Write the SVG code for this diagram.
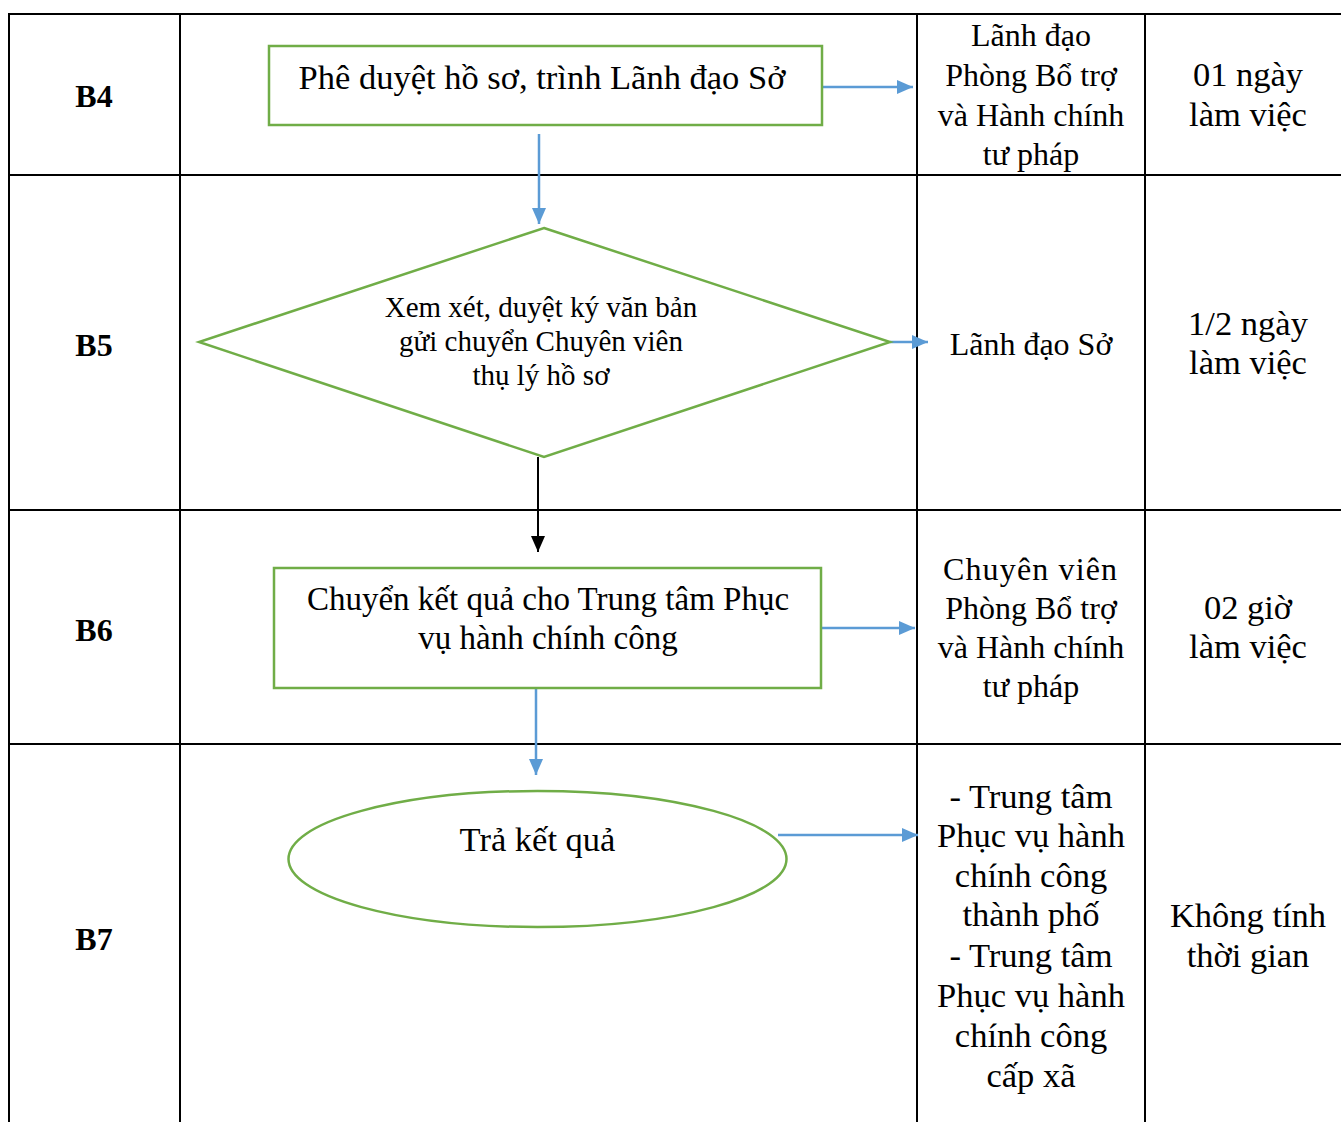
<svg xmlns="http://www.w3.org/2000/svg" width="1341" height="1122" viewBox="0 0 1341 1122">
  <style>
    .grid { stroke: #000; stroke-width: 2; fill: none; }
    .shape { fill: #fff; stroke: #70AD47; stroke-width: 2.5; }
    .txt { font-family: "Liberation Serif", "Times New Roman", serif; font-size: 32px; fill: #000; text-anchor: middle; }
    .step { font-weight: bold; }
    .dia { font-size: 29px; }
    .big { font-size: 34.5px; }
    .mid { font-size: 33px; }
    .flow { stroke: #5B9BD5; stroke-width: 2.5; fill: none; }
    .flowk { stroke: #000; stroke-width: 2; fill: none; }
  </style>
  <defs>
    <marker id="arrowBlue" markerUnits="userSpaceOnUse" markerWidth="16" markerHeight="14" refX="16" refY="7" orient="auto">
      <path d="M0,0 L16,7 L0,14 z" fill="#5B9BD5"/>
    </marker>
    <marker id="arrowBlack" markerUnits="userSpaceOnUse" markerWidth="16" markerHeight="14" refX="16" refY="7" orient="auto">
      <path d="M0,0 L16,7 L0,14 z" fill="#000"/>
    </marker>
  </defs>

  <rect width="1341" height="1122" fill="#fff"/>

  <!-- table grid -->
  <g id="table">
    <line class="grid" x1="9" y1="14" x2="1341" y2="14"/>
    <line class="grid" x1="9" y1="175" x2="1341" y2="175"/>
    <line class="grid" x1="9" y1="510" x2="1341" y2="510"/>
    <line class="grid" x1="9" y1="744" x2="1341" y2="744"/>
    <line class="grid" x1="9" y1="13" x2="9" y2="1122"/>
    <line class="grid" x1="180" y1="13" x2="180" y2="1122"/>
    <line class="grid" x1="917" y1="13" x2="917" y2="1122"/>
    <line class="grid" x1="1145" y1="13" x2="1145" y2="1122"/>
  </g>

  <!-- step labels -->
  <g id="steps">
    <text class="txt step" x="94" y="107">B4</text>
    <text class="txt step" x="94" y="356">B5</text>
    <text class="txt step" x="94" y="641">B6</text>
    <text class="txt step" x="94" y="950">B7</text>
  </g>

  <!-- responsible parties -->
  <g id="owners">
    <text class="txt" x="1031" y="46">Lãnh đạo</text>
    <text class="txt" x="1031" y="86">Phòng Bổ trợ</text>
    <text class="txt" x="1031" y="126">và Hành chính</text>
    <text class="txt" x="1031" y="165">tư pháp</text>

    <text class="txt" x="1031" y="355">Lãnh đạo Sở</text>

    <text class="txt" x="1030" y="580" textLength="174" lengthAdjust="spacing">Chuyên viên</text>
    <text class="txt" x="1031" y="619">Phòng Bổ trợ</text>
    <text class="txt" x="1031" y="658">và Hành chính</text>
    <text class="txt" x="1031" y="697">tư pháp</text>

    <text class="txt big" x="1031" y="808">- Trung tâm</text>
    <text class="txt big" x="1031" y="847">Phục vụ hành</text>
    <text class="txt big" x="1031" y="887">chính công</text>
    <text class="txt big" x="1031" y="926">thành phố</text>
    <text class="txt big" x="1031" y="967">- Trung tâm</text>
    <text class="txt big" x="1031" y="1007">Phục vụ hành</text>
    <text class="txt big" x="1031" y="1047">chính công</text>
    <text class="txt big" x="1031" y="1087">cấp xã</text>
  </g>

  <!-- durations -->
  <g id="durations">
    <text class="txt big" x="1248" y="86">01 ngày</text>
    <text class="txt big" x="1248" y="126">làm việc</text>
    <text class="txt big" x="1248" y="335">1/2 ngày</text>
    <text class="txt big" x="1248" y="374">làm việc</text>
    <text class="txt big" x="1248" y="619">02 giờ</text>
    <text class="txt big" x="1248" y="658">làm việc</text>
    <text class="txt big" x="1248" y="927">Không tính</text>
    <text class="txt big" x="1248" y="967">thời gian</text>
  </g>

  <!-- connectors -->
  <g id="connectors">
    <line class="flow" x1="822" y1="87" x2="913" y2="87" marker-end="url(#arrowBlue)"/>
    <line class="flow" x1="539" y1="134" x2="539" y2="224" marker-end="url(#arrowBlue)"/>
    <line class="flow" x1="890" y1="342" x2="928" y2="342" marker-end="url(#arrowBlue)"/>
    <line class="flowk" x1="538" y1="457" x2="538" y2="552" marker-end="url(#arrowBlack)"/>
    <line class="flow" x1="821" y1="628" x2="915" y2="628" marker-end="url(#arrowBlue)"/>
    <line class="flow" x1="536" y1="688" x2="536" y2="775" marker-end="url(#arrowBlue)"/>
    <line class="flow" x1="778" y1="835" x2="918" y2="835" marker-end="url(#arrowBlue)"/>
  </g>

  <!-- B4: approval box -->
  <g id="node-b4">
    <rect class="shape" x="269" y="46" width="553" height="79"/>
    <text class="txt big" x="542" y="89">Phê duyệt hồ sơ, trình Lãnh đạo Sở</text>
  </g>

  <!-- B5: review decision -->
  <g id="node-b5">
    <polygon class="shape" points="544,228 890,342 544,457 199,342"/>
    <text class="txt dia" x="541" y="317">Xem xét, duyệt ký văn bản</text>
    <text class="txt dia" x="541" y="351">gửi chuyển Chuyên viên</text>
    <text class="txt dia" x="541" y="385">thụ lý hồ sơ</text>
  </g>

  <!-- B6: forward results -->
  <g id="node-b6">
    <rect class="shape" x="274" y="568" width="547" height="120"/>
    <text class="txt mid" x="548" y="610">Chuyển kết quả cho Trung tâm Phục</text>
    <text class="txt mid" x="548" y="649">vụ hành chính công</text>
  </g>

  <!-- B7: return results -->
  <g id="node-b7">
    <ellipse class="shape" cx="537.5" cy="859" rx="249" ry="68"/>
    <text class="txt big" x="537.5" y="851">Trả kết quả</text>
  </g>
</svg>
